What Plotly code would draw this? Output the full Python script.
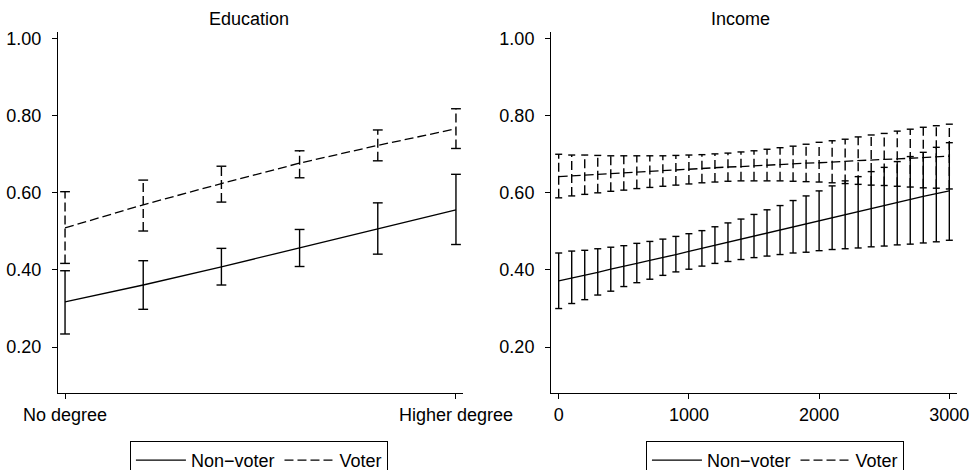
import plotly.graph_objects as go

FONT = "Liberation Sans, Arial, Helvetica, sans-serif"

# ---------------- Education panel ----------------
edu_x = [0, 1, 2, 3, 4, 5]
edu_tickvals = [0, 5]
edu_ticktext = ["No degree", "Higher degree"]

edu_nv_mean = [0.317, 0.361, 0.408, 0.457, 0.507, 0.556]
edu_nv_lo = [0.234, 0.298, 0.361, 0.409, 0.441, 0.466]
edu_nv_hi = [0.398, 0.424, 0.456, 0.505, 0.574, 0.648]

edu_v_mean = [0.509, 0.569, 0.624, 0.677, 0.723, 0.766]
edu_v_lo = [0.417, 0.501, 0.576, 0.639, 0.683, 0.715]
edu_v_hi = [0.603, 0.633, 0.669, 0.709, 0.763, 0.818]

# ---------------- Income panel ----------------
inc_x = [0, 100, 200, 300, 400, 500, 600, 700, 800, 900, 1000,
         1100, 1200, 1300, 1400, 1500, 1600, 1700, 1800, 1900, 2000,
         2100, 2200, 2300, 2400, 2500, 2600, 2700, 2800, 2900, 3000]
inc_tickvals = [0, 1000, 2000, 3000]

inc_nv_mean = [0.372, 0.379, 0.387, 0.394, 0.402, 0.409, 0.417, 0.425, 0.432, 0.440, 0.448,
               0.456, 0.464, 0.472, 0.480, 0.488, 0.496, 0.504, 0.512, 0.521, 0.529,
               0.537, 0.545, 0.552, 0.560, 0.568, 0.576, 0.583, 0.591, 0.598, 0.605]
inc_nv_lo = [0.300, 0.313, 0.323, 0.335, 0.345, 0.357, 0.367, 0.376, 0.386, 0.395, 0.402,
             0.410, 0.417, 0.422, 0.427, 0.432, 0.436, 0.440, 0.444, 0.446, 0.450,
             0.453, 0.455, 0.457, 0.460, 0.462, 0.465, 0.467, 0.470, 0.473, 0.477]
inc_nv_hi = [0.444, 0.449, 0.451, 0.455, 0.459, 0.463, 0.469, 0.474, 0.480, 0.487, 0.494,
             0.502, 0.512, 0.522, 0.532, 0.544, 0.556, 0.567, 0.580, 0.592, 0.605,
             0.618, 0.631, 0.642, 0.655, 0.666, 0.681, 0.694, 0.705, 0.718, 0.730]

inc_v_mean = [0.642, 0.644, 0.646, 0.648, 0.650, 0.652, 0.654, 0.656, 0.658, 0.660, 0.661,
              0.663, 0.665, 0.667, 0.668, 0.670, 0.672, 0.674, 0.675, 0.677, 0.678,
              0.680, 0.682, 0.683, 0.685, 0.687, 0.688, 0.690, 0.692, 0.693, 0.695]
inc_v_lo = [0.587, 0.592, 0.596, 0.600, 0.604, 0.607, 0.611, 0.614, 0.617, 0.620, 0.623,
            0.626, 0.628, 0.630, 0.631, 0.631, 0.631, 0.631, 0.630, 0.629, 0.628,
            0.626, 0.624, 0.622, 0.620, 0.619, 0.617, 0.615, 0.613, 0.612, 0.610]
inc_v_hi = [0.700, 0.698, 0.698, 0.697, 0.696, 0.696, 0.696, 0.696, 0.696, 0.697, 0.698,
            0.699, 0.701, 0.703, 0.706, 0.709, 0.713, 0.717, 0.721, 0.726, 0.731,
            0.735, 0.739, 0.745, 0.750, 0.754, 0.760, 0.765, 0.770, 0.774, 0.778]

series_names = ["Non\u2212voter", "Voter"]
DASH = "9px,4px"


def segments(xs, lo, hi):
    X, Y = [], []
    for x, l, h in zip(xs, lo, hi):
        X += [x, x, None]
        Y += [l, h, None]
    return X, Y


fig = go.Figure()


def add_panel(xs, nv_m, nv_l, nv_h, v_m, v_l, v_h, xa, ya, leg, cap):
    # Non-voter
    fig.add_trace(go.Scatter(x=xs, y=nv_m, mode="lines", name=series_names[0],
                             line=dict(color="black", width=1.3),
                             xaxis=xa, yaxis=ya, legend=leg, showlegend=True))
    sx, sy = segments(xs, nv_l, nv_h)
    fig.add_trace(go.Scatter(x=sx, y=sy, mode="lines+markers",
                             line=dict(color="black", width=1.4),
                             marker=dict(symbol="line-ew", size=cap,
                                         line=dict(color="black", width=1.4)),
                             xaxis=xa, yaxis=ya, showlegend=False, hoverinfo="skip"))
    # Voter
    fig.add_trace(go.Scatter(x=xs, y=v_m, mode="lines", name=series_names[1],
                             line=dict(color="black", width=1.3, dash=DASH),
                             xaxis=xa, yaxis=ya, legend=leg, showlegend=True))
    sx, sy = segments(xs, v_l, v_h)
    fig.add_trace(go.Scatter(x=sx, y=sy, mode="lines+markers",
                             line=dict(color="black", width=1.4, dash=DASH),
                             marker=dict(symbol="line-ew", size=cap,
                                         line=dict(color="black", width=1.4)),
                             xaxis=xa, yaxis=ya, showlegend=False, hoverinfo="skip"))


add_panel(edu_x, edu_nv_mean, edu_nv_lo, edu_nv_hi,
          edu_v_mean, edu_v_lo, edu_v_hi, "x", "y", "legend", 7)
add_panel(inc_x, inc_nv_mean, inc_nv_lo, inc_nv_hi,
          inc_v_mean, inc_v_lo, inc_v_hi, "x2", "y2", "legend2", 5)

axis_common = dict(showline=True, linecolor="black", linewidth=1,
                   ticks="outside", ticklen=5, tickwidth=1, tickcolor="black",
                   showgrid=False, zeroline=False,
                   tickfont=dict(family=FONT, size=18, color="black"))

yvals = [0.2, 0.4, 0.6, 0.8, 1.0]
YR = [0.081, 1.017]

legend_common = dict(orientation="h", xanchor="left", yanchor="top", y=-0.133,
                     bordercolor="black", borderwidth=1, bgcolor="white",
                     font=dict(family=FONT, size=18, color="black"),
                     itemwidth=50, tracegroupgap=0)

fig.update_layout(
    width=972, height=470,
    paper_bgcolor="white", plot_bgcolor="white",
    font=dict(family=FONT, size=18, color="black"),
    margin=dict(l=58, r=15, t=32, b=77, autoexpand=False),
    xaxis=dict(domain=[0, 0.4505], range=[-0.09, 5.09], tickvals=edu_tickvals,
               ticktext=edu_ticktext, anchor="y", **axis_common),
    yaxis=dict(domain=[0, 1], range=YR, tickvals=yvals, tickformat=".2f",
               anchor="x", ticklabelstandoff=7, **axis_common),
    xaxis2=dict(domain=[0.5484, 1], range=[-59, 3059], tickvals=inc_tickvals,
                anchor="y2", **axis_common),
    yaxis2=dict(domain=[0, 1], range=YR, tickvals=yvals, tickformat=".2f",
                anchor="x2", ticklabelstandoff=7, **axis_common),
    legend=dict(x=0.080, **legend_common),
    legend2=dict(x=0.654, **legend_common),
    annotations=[
        dict(text="Education", xref="paper", yref="paper", x=0.2125, y=1.036,
             xanchor="center", yanchor="middle", showarrow=False,
             font=dict(family=FONT, size=18, color="black")),
        dict(text="Income", xref="paper", yref="paper", x=0.7597, y=1.036,
             xanchor="center", yanchor="middle", showarrow=False,
             font=dict(family=FONT, size=18, color="black")),
    ],
)

fig.write_html("out.html",
               config={"displayModeBar": False},
               post_script="document.body.style.margin='0px';"
                           "document.body.style.overflow='hidden';")
